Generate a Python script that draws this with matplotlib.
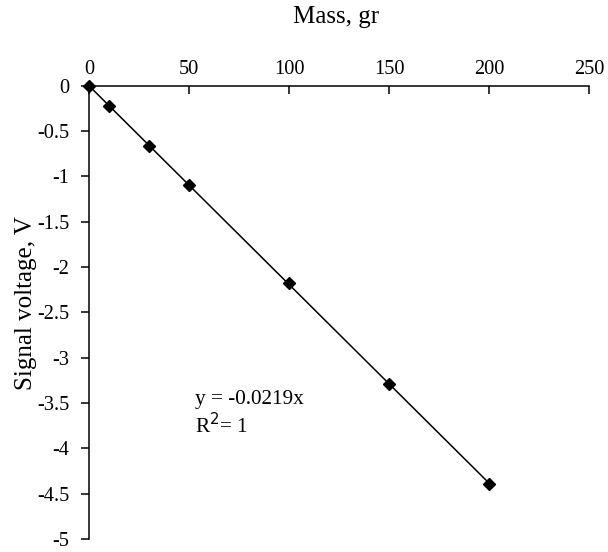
import numpy as np
import matplotlib.pyplot as plt

plt.rcParams['font.family'] = ['Liberation Serif', 'DejaVu Serif']

# --- data ---
masa = [0, 10, 30, 50, 100, 150, 200]
voltaje = [0, -0.22, -0.66, -1.10, -2.18, -3.29, -4.39]
xticks = [0, 50, 100, 150, 200, 250]
yticks = [0, -0.5, -1, -1.5, -2, -2.5, -3, -3.5, -4, -4.5, -5]
ytick_labels = ["0", "-0.5", "-1", "-1.5", "-2", "-2.5", "-3", "-3.5", "-4", "-4.5", "-5"]

fig = plt.figure(figsize=(6.08, 5.52), dpi=100)
ax = fig.add_axes([0.1464, 0.0239, 0.8224, 0.8446 - 0.0239])

# linea de tendencia (por el origen) + puntos
pend = np.sum(np.array(masa) * np.array(voltaje)) / np.sum(np.array(masa) ** 2)
xs = np.array([0, max(masa)])
ax.plot(xs, pend * xs, color='black', lw=1.1, clip_on=False)
ax.plot(masa, voltaje, linestyle='none', marker='D', markersize=6, color='black', clip_on=False)

ax.set_xlim(0, 250)
ax.set_ylim(-5, 0)
ax.xaxis.tick_top()
ax.xaxis.set_label_position('top')
ax.set_xticks(xticks)
ax.set_yticks(yticks)
ax.set_yticklabels(ytick_labels)
ax.tick_params(axis='x', direction='in', length=6, width=1.1, labelsize=14.7, pad=5)
ax.tick_params(axis='y', direction='out', length=6, width=1.1, labelsize=14.7, pad=8)
for lado in ['right', 'bottom']:
    ax.spines[lado].set_visible(False)
ax.spines['top'].set_linewidth(1.1)
ax.spines['left'].set_linewidth(1.1)

ax.set_xlabel("Mass, gr", fontsize=18, va='center')
ax.xaxis.set_label_coords(0.495, 1.152)
ax.set_ylabel("Signal voltage, V", fontsize=18, va='center')
ax.yaxis.set_label_coords(-0.126, 0.52)

ax.text(53, -3.62, "y = -0.0219x\nR$^2$= 1", fontsize=15.3, va='center', ha='left',
        linespacing=1.2)

fig.savefig("out.png", dpi=100)
